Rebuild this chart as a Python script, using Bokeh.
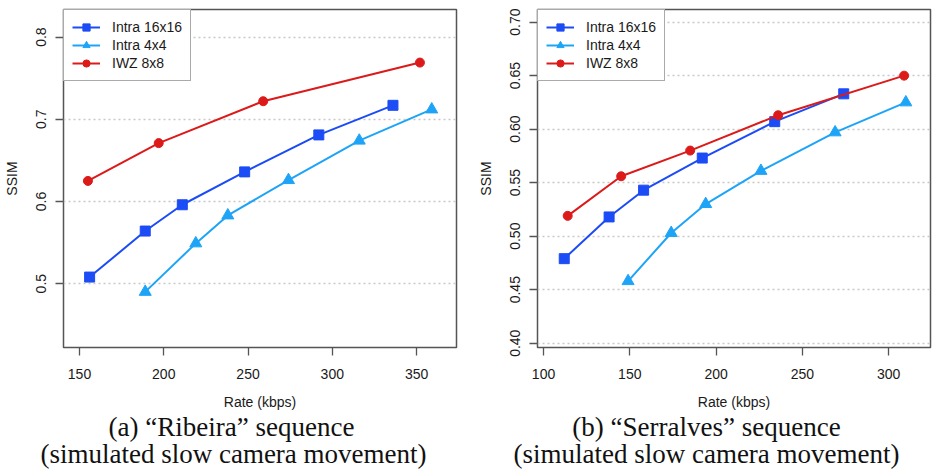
from bokeh.plotting import figure
from bokeh.layouts import row, column
from bokeh.models import FixedTicker, Legend, LegendItem
from bokeh.core.properties import value
from bokeh.embed import file_html
from bokeh.resources import INLINE

# ---- data: panel (a) Ribeira ----
a_i16_rate = [156, 189, 211, 248, 292, 336]
a_i16_ssim = [0.508, 0.564, 0.596, 0.636, 0.681, 0.717]
a_i4_rate = [189, 219, 238, 274, 316, 359]
a_i4_ssim = [0.490, 0.549, 0.583, 0.626, 0.674, 0.712]
a_iwz_rate = [155, 197, 259, 352]
a_iwz_ssim = [0.625, 0.671, 0.722, 0.769]

# ---- data: panel (b) Serralves ----
b_i16_rate = [112, 138, 158, 192, 234, 274]
b_i16_ssim = [0.479, 0.518, 0.543, 0.573, 0.607, 0.633]
b_i4_rate = [149, 174, 194, 226, 269, 310]
b_i4_ssim = [0.458, 0.503, 0.530, 0.561, 0.597, 0.625]
b_iwz_rate = [114, 145, 185, 236, 309]
b_iwz_ssim = [0.519, 0.556, 0.580, 0.613, 0.650]

series_names = ["Intra 16x16", "Intra 4x4", "IWZ 8x8"]

a_xticks = [150, 200, 250, 300, 350]
a_yticks = [0.5, 0.6, 0.7, 0.8]
a_ytick_labels = ["0.5", "0.6", "0.7", "0.8"]
b_xticks = [100, 150, 200, 250, 300]
b_yticks = [0.40, 0.45, 0.50, 0.55, 0.60, 0.65, 0.70]
b_ytick_labels = ["0.40", "0.45", "0.50", "0.55", "0.60", "0.65", "0.70"]

caption_lines = ["(a) \u201cRibeira\u201d sequence", "(simulated slow camera movement)",
                 "(b) \u201cSerralves\u201d sequence", "(simulated slow camera movement)"]

COL_I16 = "#1c4cf5"
COL_I4 = "#1ea4f7"
COL_IWZ = "#dc1a1a"
BOX = "#555555"
SANS = "Liberation Sans"
SERIF = "Liberation Serif"

PLOT_H = 412
CAP_H = 472 - PLOT_H


def make_panel(series, xr, yr, xticks, yticks, ylabels, left, right, top):
    p = figure(width=466, height=PLOT_H, x_range=xr, y_range=yr,
               output_backend="svg", toolbar_location=None,
               min_border_left=left, min_border_right=right,
               min_border_top=top, min_border_bottom=65)
    p.outline_line_color = BOX
    p.outline_line_width = 1.5
    p.background_fill_color = "white"
    p.border_fill_color = "white"

    p.xgrid.visible = False
    p.ygrid.ticker = FixedTicker(ticks=yticks)
    p.ygrid.grid_line_color = "#c8c8c8"
    p.ygrid.grid_line_dash = "2 3"
    p.ygrid.grid_line_width = 1.3

    for ax in (p.xaxis[0], p.yaxis[0]):
        ax.axis_line_color = None
        ax.major_tick_line_color = BOX
        ax.major_tick_line_width = 1.3
        ax.major_tick_out = 8
        ax.major_tick_in = 0
        ax.minor_tick_line_color = None
        ax.major_label_text_font = SANS
        ax.major_label_text_font_size = "14px"
        ax.major_label_text_color = "#1a1a1a"
        ax.axis_label_text_font = SANS
        ax.axis_label_text_font_style = "normal"
        ax.axis_label_text_color = "#1a1a1a"

    p.xaxis.ticker = FixedTicker(ticks=xticks)
    p.xaxis.major_label_standoff = 13
    p.xaxis.axis_label = "Rate (kbps)"
    p.xaxis.axis_label_text_font_size = "14px"
    p.xaxis.axis_label_standoff = 12

    p.yaxis.ticker = FixedTicker(ticks=yticks)
    p.yaxis.major_label_overrides = {t: l for t, l in zip(yticks, ylabels)}
    p.yaxis.major_label_orientation = "vertical"
    p.yaxis.major_label_standoff = 9
    p.yaxis.axis_label = "SSIM"
    p.yaxis.axis_label_text_font_size = "14px"
    p.yaxis.axis_label_standoff = 14

    cols = [COL_I16, COL_I4, COL_IWZ]
    markers = ["square", "triangle", "circle"]
    sizes = [10, 12, 9]
    items = []
    for (xs, ys), name, c, m, s in zip(series, series_names, cols, markers, sizes):
        ln = p.line(xs, ys, line_color=c, line_width=2)
        sc = p.scatter(xs, ys, marker=m, size=s, fill_color=c, line_color=c)
        items.append(LegendItem(label=name, renderers=[ln, sc]))

    leg = Legend(items=items, location="top_left")
    leg.margin = 0
    leg.padding = 8
    leg.spacing = 0
    leg.label_height = 18
    leg.glyph_height = 18
    leg.glyph_width = 28
    leg.label_standoff = 12
    leg.label_text_font = SANS
    leg.label_text_font_size = "14px"
    leg.label_text_color = "#1a1a1a"
    leg.border_line_color = BOX
    leg.border_line_width = 1.5
    leg.background_fill_alpha = 1.0
    p.add_layout(leg)
    return p


pa = make_panel([(a_i16_rate, a_i16_ssim), (a_i4_rate, a_i4_ssim), (a_iwz_rate, a_iwz_ssim)],
                (140.5, 373.7), (0.4223, 0.8336), a_xticks, a_yticks, a_ytick_labels,
                63, 10, 8)
pb = make_panel([(b_i16_rate, b_i16_ssim), (b_i4_rate, b_i4_ssim), (b_iwz_rate, b_iwz_ssim)],
                (96.5, 324.3), (0.396, 0.7118), b_xticks, b_yticks, b_ytick_labels,
                71, 2, 9)

# caption strip (pixel-like coordinate space)
pc = figure(width=932, height=CAP_H, x_range=(0, 932), y_range=(0, CAP_H),
            output_backend="svg", toolbar_location=None,
            min_border=0, min_border_left=0, min_border_right=0,
            min_border_top=0, min_border_bottom=0)
pc.axis.visible = False
pc.grid.visible = False
pc.outline_line_color = None
pc.text(x=[231, 233, 706, 706], y=[CAP_H - 14, CAP_H - 41, CAP_H - 14, CAP_H - 41],
        text=caption_lines, text_font=value(SERIF), text_font_size="27px",
        text_color="#111111", text_align="center", text_baseline="middle")

layout = column(row(pa, pb), pc)
open("out.html", "w").write(file_html(layout, INLINE))
